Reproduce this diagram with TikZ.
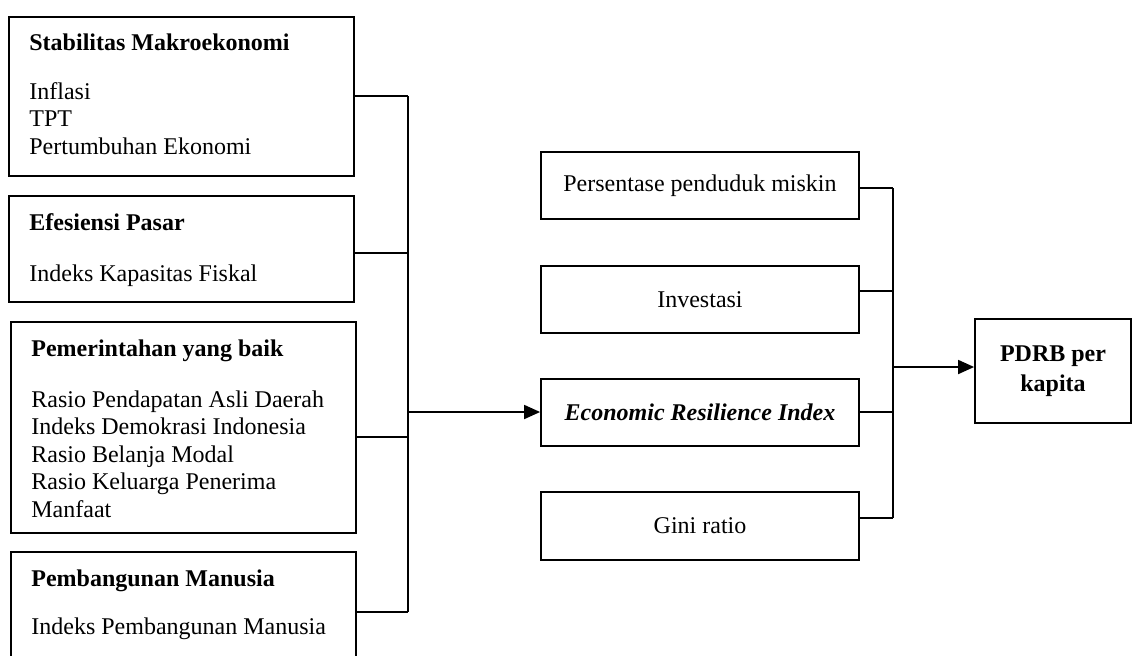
\documentclass[tikz,border=0pt]{standalone}
\usepackage{fontspec}
\setmainfont{Liberation Serif}
\usetikzlibrary{fit,arrows.meta}
\begin{document}
\begin{tikzpicture}[x=0.5pt,y=-0.5pt,
  box/.style={draw, line width=0.9pt, inner sep=0pt},
  txt/.style={inner sep=0pt, anchor=base west, align=left},
  conn/.style={line width=0.9pt},
  arr/.style={conn, -{Triangle[length=8pt,width=7pt]}},
  every node/.append style={font=\fontsize{12}{13.75}\selectfont}]
\useasboundingbox (0,0) rectangle (1136,655);
\clip (0,0) rectangle (1136,655);
% left boxes
\node[box, fit={(9,17) (354,176)}] (b1) {};
\node[box, fit={(9,196) (354,302)}] (b2) {};
\node[box, fit={(11,322) (356,533)}] (b3) {};
\node[box, fit={(11,552) (356,662)}] (b4) {};
% left texts (multi-line nodes: base = baseline of last line)
\node[txt] (b1h) at (29,50) {\textbf{Stabilitas Makroekonomi}};
\node[txt] (b1t) at (29,154) {Inflasi\\TPT\\Pertumbuhan Ekonomi};
\node[txt] (b2h) at (29,230) {\textbf{Efesiensi Pasar}};
\node[txt] (b2t) at (29,281) {Indeks Kapasitas Fiskal};
\node[txt] (b3h) at (31,356) {\textbf{Pemerintahan yang baik}};
\node[txt] (b3t) at (31,517) {Rasio Pendapatan Asli Daerah\\Indeks Demokrasi Indonesia\\Rasio Belanja Modal\\Rasio Keluarga Penerima\\Manfaat};
\node[txt] (b4h) at (31,586) {\textbf{Pembangunan Manusia}};
\node[txt] (b4t) at (31,634) {Indeks Pembangunan Manusia};
% middle boxes
\node[box, fit={(541,152) (859,219)}] (pm) {};
\node[box, fit={(541,266) (859,333)}] (inv) {};
\node[box, fit={(541,379) (859,446)}] (eri) {};
\node[box, fit={(541,492) (859,560)}] (gini) {};
\node (pmt) at (pm.center) {Persentase penduduk miskin};
\node (invt) at (inv.center) {Investasi};
\node (erit) at (eri.center) {\textbf{\textit{Economic Resilience Index}}};
\node (ginit) at (gini.center) {Gini ratio};
% right box
\node[box, fit={(975,319) (1131,423)}] (pdrb) {};
\node[align=center] (pdrbt) at (pdrb.center) {\textbf{PDRB per}\\[1.25pt]\textbf{kapita}};
% left bus
\coordinate (l1) at (408,96);
\coordinate (l2) at (408,253);
\coordinate (l3) at (408,437);
\coordinate (l4) at (408,612);
\coordinate (lo) at (408,412);
\draw[conn] (b1.east |- l1) -- (l1);
\draw[conn] (b2.east |- l2) -- (l2);
\draw[conn] (b3.east |- l3) -- (l3);
\draw[conn] (b4.east |- l4) -- (l4);
\draw[conn] (l1) -- (l4);
\draw[arr] (lo) -- (eri.west |- lo);
% right bus
\coordinate (r1) at (893,188);
\coordinate (r2) at (893,291);
\coordinate (r3) at (893,412);
\coordinate (r4) at (893,518);
\coordinate (ro) at (893,367);
\draw[conn] (pm.east |- r1) -- (r1);
\draw[conn] (inv.east |- r2) -- (r2);
\draw[conn] (eri.east |- r3) -- (r3);
\draw[conn] (gini.east |- r4) -- (r4);
\draw[conn] (r1) -- (r4);
\draw[arr] (ro) -- (pdrb.west |- ro);
\end{tikzpicture}
\end{document}
